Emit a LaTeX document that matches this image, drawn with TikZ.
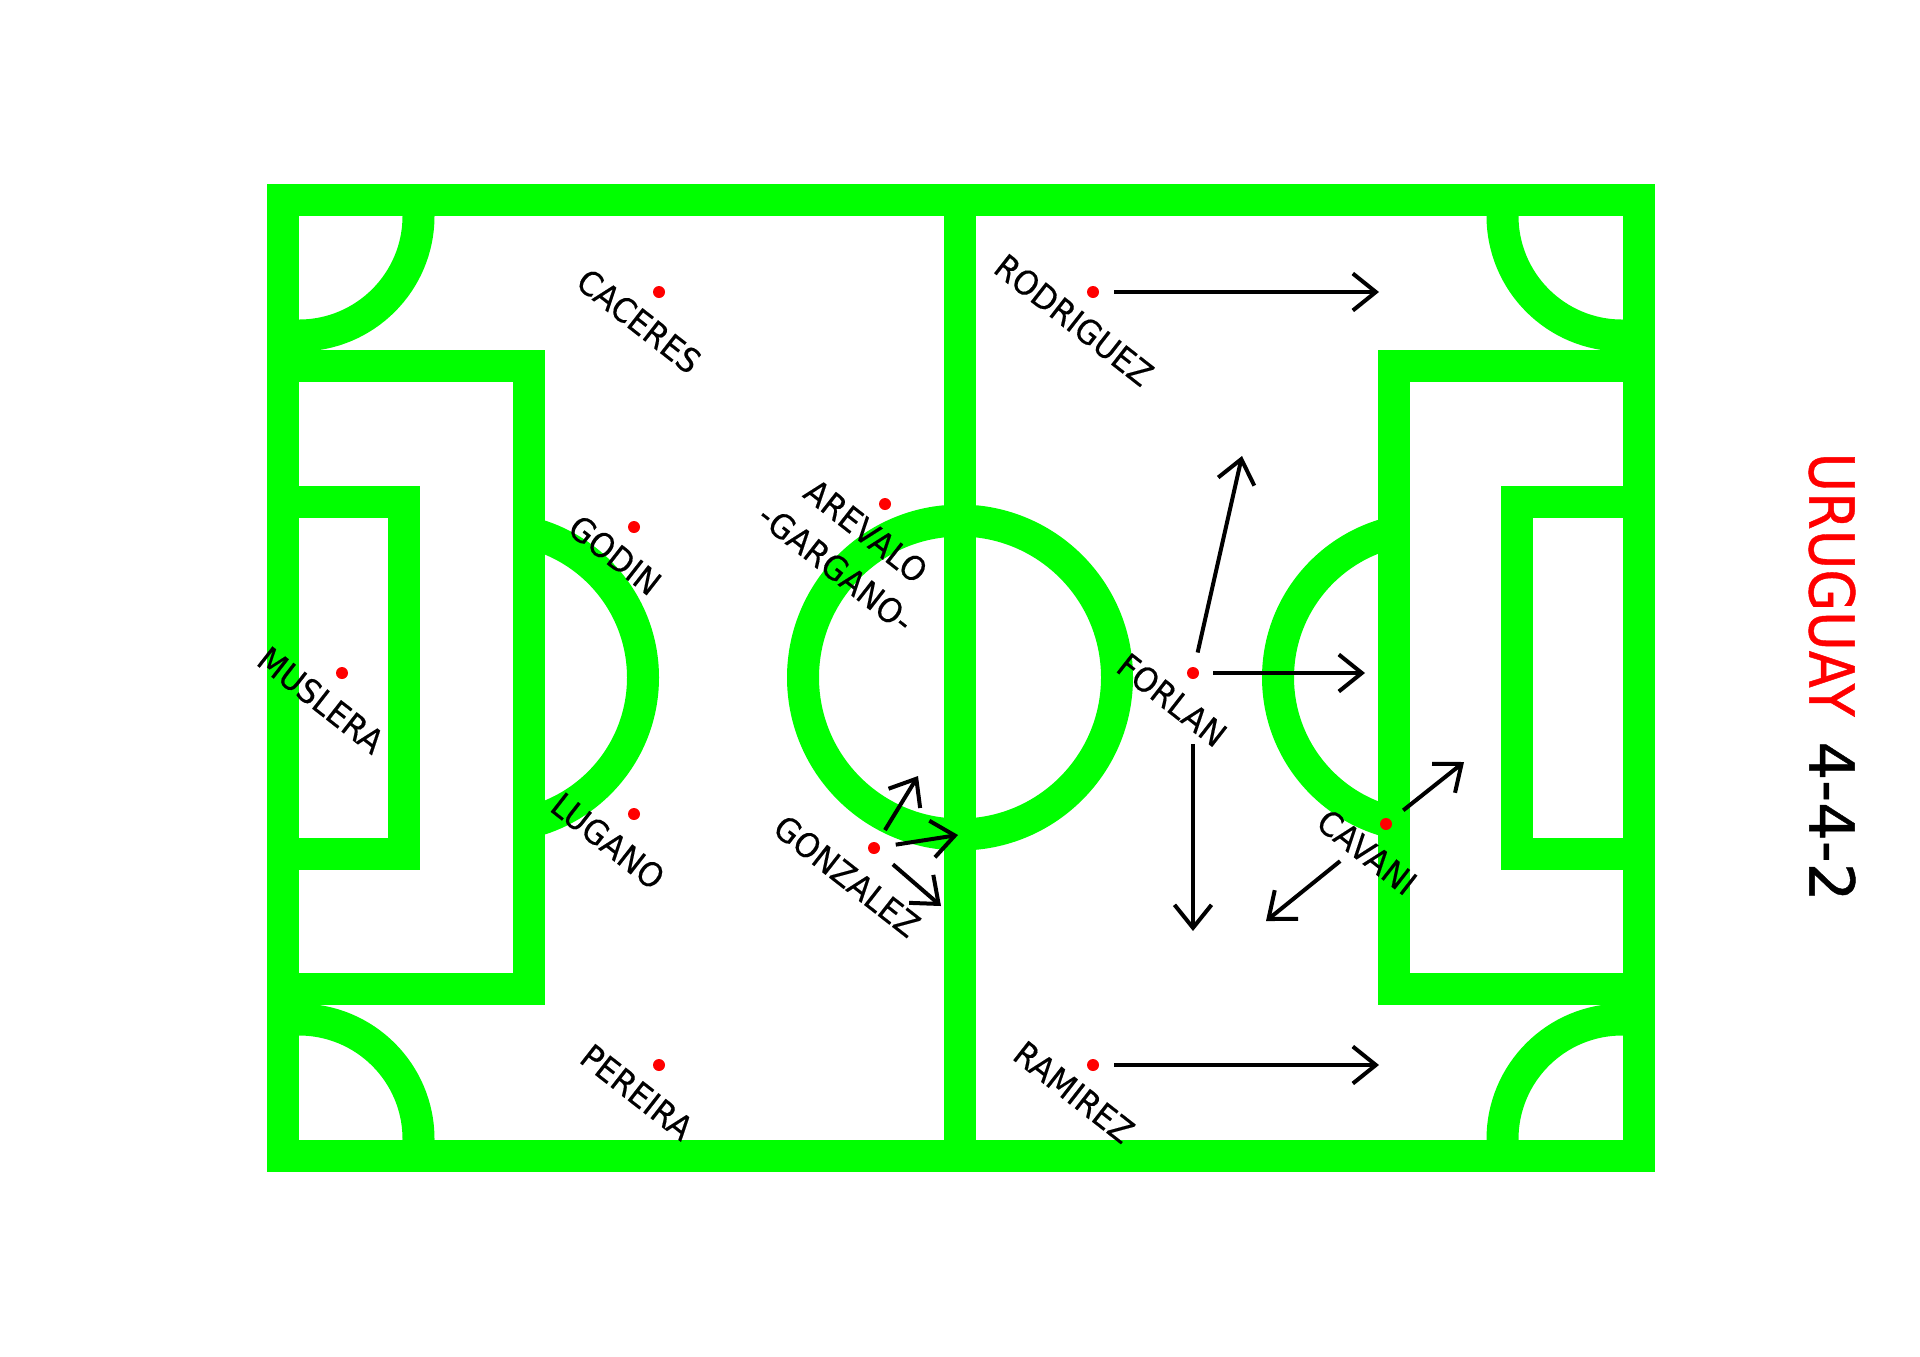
\documentclass[tikz,border=0pt]{standalone}
\usepackage{fontspec}
\setmainfont{DejaVu Sans}
\newfontfamily\heavyfont[FakeBold=0.35]{DejaVu Sans}
\newfontfamily\titlefont[FakeBold=0.7]{DejaVu Sans}
\usetikzlibrary{arrows.meta}
\definecolor{pitch}{RGB}{0,255,0}
\newcommand{\plname}[1]{\scalebox{0.93}[1]{#1}}
\tikzset{
  x=0.5pt,y=-0.5pt,
  pitchline/.style={draw=pitch,line width=16pt,line join=miter},
  pdot/.style={circle,fill=red,inner sep=0pt,minimum size=6pt},
  plabel/.style={inner sep=0pt,rotate=-38,font=\heavyfont\fontsize{16.8}{16.8}\selectfont,text=black},
  prun/.style={draw=black,line width=2pt,-{Straight Barb[length=11.5pt,width=18.5pt,line width=2pt]}},
}
\begin{document}
\begin{tikzpicture}
\useasboundingbox (0,0) rectangle (1920,1356);
\fill[white] (0,0) rectangle (1920,1356);
% pitch
\begin{scope}
  \clip (282.5,199.5) rectangle (1638.5,1155.5);
  \foreach \cx/\cy in {299/216,1622/216,299/1139,1622/1139}
    \draw[pitchline] (\cx,\cy) circle[radius=59.75pt];
\end{scope}
\begin{scope}
  \clip (528.5,400) rectangle (800,950);
  \draw[pitchline] (494,677.5) circle[radius=74.5pt];
\end{scope}
\begin{scope}
  \clip (1100,400) rectangle (1392.5,950);
  \draw[pitchline] (1427,677.5) circle[radius=74.5pt];
\end{scope}
\draw[pitchline] (282.5,199.5) rectangle (1638.5,1155.5);
\draw[pitchline] (282.5,366) -- (528.5,366) -- (528.5,989) -- (282.5,989);
\draw[pitchline] (1638.5,366) -- (1393.5,366) -- (1393.5,989) -- (1638.5,989);
\draw[pitchline] (282.5,501.5) -- (404,501.5) -- (404,853.5) -- (282.5,853.5);
\draw[pitchline] (1638.5,501.5) -- (1517,501.5) -- (1517,853.5) -- (1638.5,853.5);
\draw[pitchline] (960,199.5) -- (960,1155.5);
\draw[pitchline] (960,677.5) circle[radius=78.5pt];
% players
\node[pdot] (muslera) at (342,673) {};
\node[pdot] (caceres) at (659,292) {};
\node[pdot] (godin) at (634,527) {};
\node[pdot] (lugano) at (634,814) {};
\node[pdot] (pereira) at (659,1065) {};
\node[pdot] (arevalo) at (885,504) {};
\node[pdot] (gonzalez) at (874,848) {};
\node[pdot] (rodriguez) at (1093,292) {};
\node[pdot] (ramirez) at (1093,1065) {};
\node[pdot] (forlan) at (1193,673) {};
\node[pdot] (cavani) at (1386,824) {};
% labels
\node[plabel] (lmuslera) at (321,700) {\plname{MUSLERA}};
\node[plabel] (lcaceres) at (639,321) {\plname{CACERES}};
\node[plabel] (lgodin) at (615,555) {\plname{GODIN}};
\node[plabel] (llugano) at (608,841) {\plname{LUGANO}};
\node[plabel] (lpereira) at (637,1092) {\plname{PEREIRA}};
\node[plabel] (larevalo) at (866,531) {\plname{AREVALO}};
\node[plabel] (lgargano) at (836,568) {\plname{-GARGANO-}};
\node[plabel] (lgonzalez) at (847,876) {\plname{GONZALEZ}};
\node[plabel] (lrodriguez) at (1074,320) {\plname{RODRIGUEZ}};
\node[plabel] (lramirez) at (1074,1092) {\plname{RAMIREZ}};
\node[plabel] (lforlan) at (1172,700) {\plname{FORLAN}};
\node[plabel] (lcavani) at (1367,852) {\plname{CAVANI}};
% runs
\coordinate (e1) at (1379,292);
\coordinate (e2) at (1379,1065);
\coordinate (e3) at (1365,673);
\coordinate (e4) at (1242,456);
\coordinate (e5) at (1193,931);
\coordinate (e6) at (1464,762);
\coordinate (e7) at (1266,921);
\coordinate (e8) at (918,776);
\coordinate (e9) at (958,835);
\coordinate (e10) at (941,906);
\draw[prun,shorten <=10.5pt] (rodriguez.center) -- (e1);
\draw[prun,shorten <=10.5pt] (ramirez.center) -- (e2);
\draw[prun,shorten <=10pt] (forlan.center) -- (e3);
\draw[prun,shorten <=10.5pt] (forlan.center) -- (e4);
\draw[prun,shorten <=35.5pt] (forlan.center) -- (e5);
\draw[prun,shorten <=11pt] (cavani.center) -- (e6);
\draw[prun,shorten <=29.5pt] (cavani.center) -- (e7);
\draw[prun,shorten <=10.5pt] (gonzalez.center) -- (e8);
\draw[prun,shorten <=11pt] (gonzalez.center) -- (e9);
\draw[prun,shorten <=12.5pt] (gonzalez.center) -- (e10);
% title
\node[inner sep=0pt,rotate=-90,font=\titlefont\fontsize{31}{31}\selectfont] (title) at (1832,677)
  {\scalebox{0.872}[1]{\textcolor{red}{URUGUAY}}\hspace{12.5pt}\scalebox{0.98}[1]{4-4-2}};
\end{tikzpicture}
\end{document}
